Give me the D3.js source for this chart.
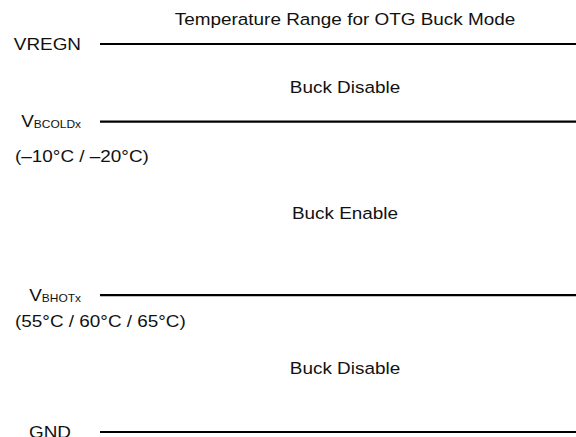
<!DOCTYPE html>
<html><head><meta charset="utf-8">
<script src="https://cdn.jsdelivr.net/npm/d3@7"></script>
<style>body{margin:0;background:#fff}svg{display:block}text{font-family:"Liberation Sans",Arial,sans-serif;fill:#111}</style>
</head><body>
<script>
const title = "Temperature Range for OTG Buck Mode";
const levelNames = ["VREGN", "V", "V", "GND"];
const levelSubs = ["", "BCOLDx", "BHOTx", ""];
const levelValues = [1.0, 0.80, 0.353, 0.0];
const levelNotes = ["", "(–10°C / –20°C)", "(55°C / 60°C / 65°C)", ""];
const regionNames = ["Buck Disable", "Buck Enable", "Buck Disable"];

const W = 576, H = 437;
const svg = d3.select("body").append("svg").attr("width", W).attr("height", H);
const y = d3.scaleLinear().domain([0, 1]).range([432, 44]);
const x = d3.scaleLinear().domain([0, 1]).range([100, 576]);
const SX = 1.14, FS = 16.6;
const noteOffsets = [0, 40, 32, 0];

function stretched(sel, tx, ty) {
  return sel.attr("transform", `translate(${tx},${ty}) scale(${SX},1)`);
}

stretched(svg.append("text").attr("text-anchor", "middle").attr("font-size", FS).text(title), 345, 25);

levelValues.forEach((v, i) => {
  svg.append("line").attr("x1", x(0)).attr("x2", x(1)).attr("y1", y(v)).attr("y2", y(v))
    .attr("stroke", "#000").attr("stroke-width", 2.2);
  const ex = i === 3 ? 71 : 81;
  const t = stretched(svg.append("text").attr("text-anchor", "end").attr("font-size", FS)
    .attr("dominant-baseline", "central"), ex, y(v));
  t.append("tspan").text(levelNames[i]);
  if (levelSubs[i]) t.append("tspan").attr("font-size", 10.5).attr("dy", 3).text(levelSubs[i]);
  if (levelNotes[i]) {
    stretched(svg.append("text").attr("font-size", FS).text(levelNotes[i]), 15, y(v) + noteOffsets[i]);
  }
});

for (let i = 0; i < regionNames.length; i++) {
  const mid = (y(levelValues[i]) + y(levelValues[i + 1])) / 2;
  stretched(svg.append("text").attr("text-anchor", "middle").attr("font-size", FS)
    .attr("dominant-baseline", "central").text(regionNames[i]), 345, mid + 5);
}
</script>
</body></html>
